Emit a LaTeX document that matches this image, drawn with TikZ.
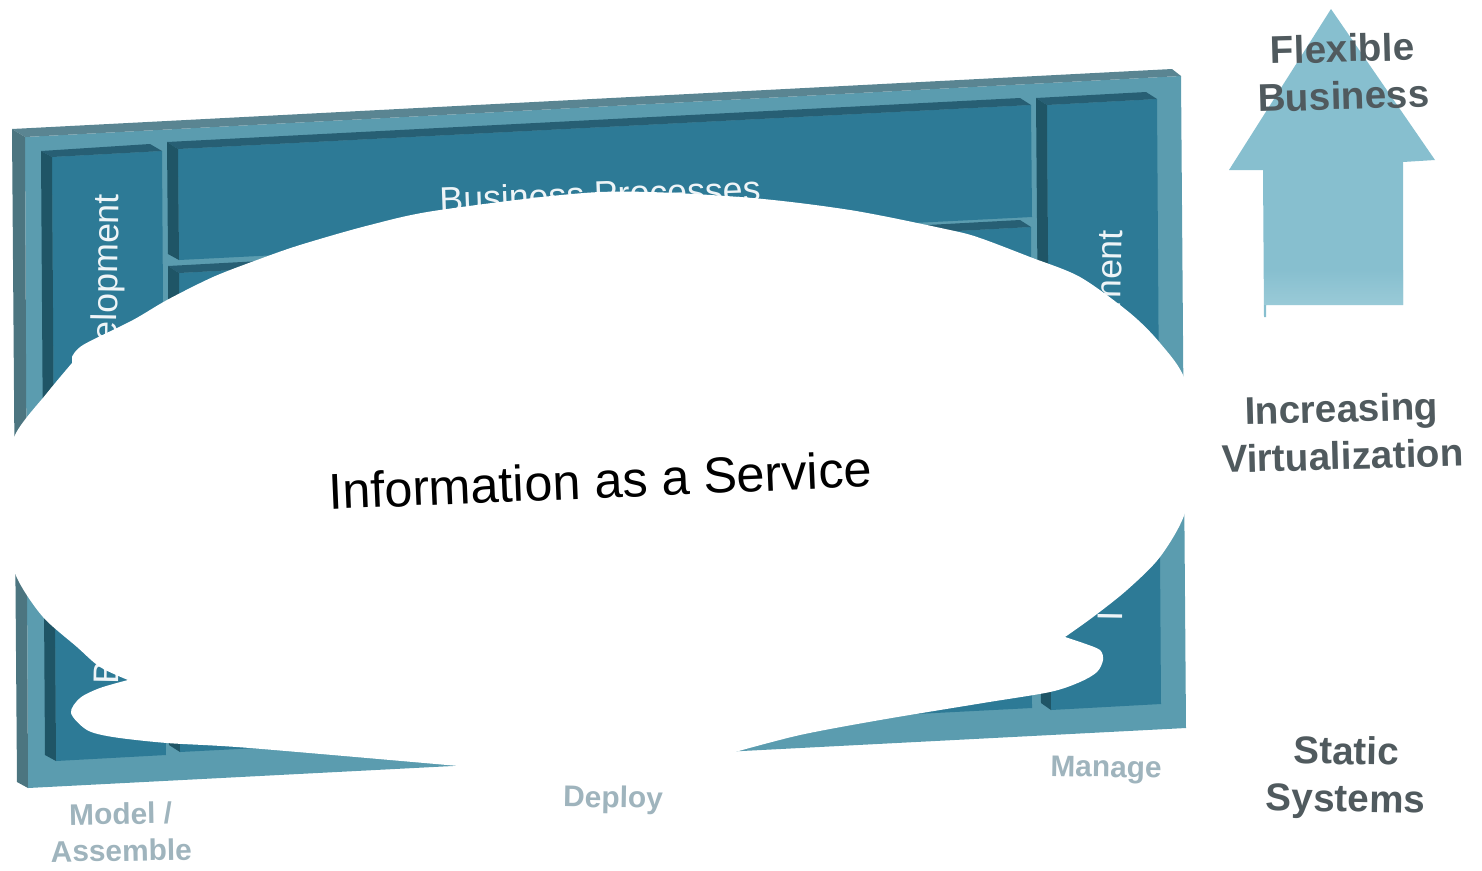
\documentclass[tikz,border=0pt]{standalone}
\usepackage{xcolor}
\usepackage{fontspec}
\setmainfont{Liberation Sans}
\definecolor{frameface}{HTML}{5B9CAF}
\definecolor{frametop}{HTML}{5A8592}
\definecolor{frameside}{HTML}{4C7580}
\definecolor{panelface}{HTML}{2D7A96}
\definecolor{paneltop}{HTML}{275F74}
\definecolor{panelside}{HTML}{1F5566}
\definecolor{arrowblue}{HTML}{87BFCF}
\definecolor{arrowpale}{HTML}{99CAD7}
\definecolor{stagegrey}{HTML}{9FB4BD}
\definecolor{sidegrey}{HTML}{505A5E}
\tikzset{
    paneltext/.style={text=white!92!panelface, font=\fontsize{20.3}{24}\selectfont},
    stagetext/.style={text=stagegrey, align=center, font=\bfseries\fontsize{17}{21}\selectfont},
    sidetext/.style={text=sidegrey, align=center, font=\bfseries\fontsize{22}{27}\selectfont}
}

\begin{document}
\begin{tikzpicture}[x=0.02cm, y=-0.02cm]
    \useasboundingbox (0,0) rectangle (1482,870);
    % Frame
    \fill[frameface] (25,137) -- (1181,76) -- (1186,728) -- (28,788) -- cycle;
    \fill[frametop] (12,129) -- (1172,69) -- (1181,76) -- (25,137) -- cycle;
    \fill[frameside] (12,129) -- (25,137) -- (28,788) -- (17,782) -- cycle;
    % Left panel
    \fill[panelface] (52,157) -- (162,151) -- (166,755) -- (56,761) -- cycle;
    \fill[paneltop] (41,151) -- (150,144) -- (162,151) -- (52,157) -- cycle;
    \fill[panelside] (41,151) -- (52,157) -- (56,761) -- (45,755) -- cycle;
    % Top panel
    \fill[panelface] (178,149) -- (1031,105) -- (1032,217) -- (179,260) -- cycle;
    \fill[paneltop] (167,142) -- (1020,98) -- (1031,105) -- (178,149) -- cycle;
    \fill[panelside] (167,142) -- (178,149) -- (179,260) -- (168,254) -- cycle;
    % Middle panel
    \fill[panelface] (179,273) -- (1031,227) -- (1032,708) -- (180,752) -- cycle;
    \fill[paneltop] (168,266) -- (1020,220) -- (1031,227) -- (179,273) -- cycle;
    \fill[panelside] (168,266) -- (179,273) -- (180,752) -- (169,745) -- cycle;
    % Right panel
    \fill[panelface] (1047,105) -- (1157,99) -- (1161,704) -- (1051,710) -- cycle;
    \fill[paneltop] (1036,98) -- (1146,92) -- (1157,99) -- (1047,105) -- cycle;
    \fill[panelside] (1036,98) -- (1047,105) -- (1051,710) -- (1041,703) -- cycle;
    % Panel labels
    \node[paneltext, rotate=2] (processes) at (600,194) {Business Processes};
    \node[paneltext, rotate=89, anchor=east] (leftupper) at (110,188) {elopment};
    \node[paneltext, rotate=89, anchor=east] (rightupper) at (1111,224) {ment};
    \node[paneltext, rotate=89, anchor=west] (leftlower) at (106,690) {B};
    \node[paneltext, rotate=89, anchor=west] (rightlower) at (1110,627) {I};
    % Cloud
    \fill[white] plot[smooth] coordinates {(72,357) (83,345) (133,320) (167,300) (213,277) (257,260) (300,245) (370,225) (440,210) (600,192) (740,197) (850,210) (950,230) (980,238) (1030,257) (1080,277) (1130,313) (1160,343) (1185,380) (1197,450) (1185,513) (1160,557) (1127,590) (1093,617) (1065,637)}
        -- plot[smooth] coordinates {(1065,637) (1083,643) (1100,650) (1103,660) (1097,672) (1080,682) (1050,692) (983,703) (880,720) (800,735) (735,752)}
        -- (735,775) -- (470,775) -- (470,767)
        -- plot[smooth] coordinates {(470,767) (250,748) (167,743) (113,737) (87,730) (71,713) (80,698) (100,688) (128,680)}
        -- plot[smooth] coordinates {(128,680) (100,667) (77,647) (43,617) (18,580) (5,540) (0,490) (15,435) (47,393) (72,363)}
        -- cycle;
    \node[font=\fontsize{28.7}{35}\selectfont, rotate=2.4] (service) at (600,480) {Information as a Service};
    % Stages
    \node[stagetext, rotate=1] (model) at (121,832) {Model /\\Assemble};
    \node[stagetext, rotate=-1] (deploy) at (613,800) {Deploy};
    \node[stagetext, rotate=-1] (manage) at (1106,770) {Manage};
    % Arrow
    \fill[arrowblue] (1331,9) -- (1435,160) -- (1403,162) -- (1403,305) -- (1266,305) -- (1266,317) -- (1264,317) -- (1263,170) -- (1229,170) -- cycle;
    \shade[top color=arrowblue, bottom color=arrowpale] (1264,270) rectangle (1403,304);
    % Side labels
    \node[sidetext, rotate=1.5] (flexible) at (1343,72) {Flexible\\Business};
    \node[sidetext, rotate=1.5] (increasing) at (1342,432) {Increasing\\Virtualization};
    \node[sidetext, rotate=-1] (static) at (1346,778) {Static\\Systems};
\end{tikzpicture}
\end{document}
